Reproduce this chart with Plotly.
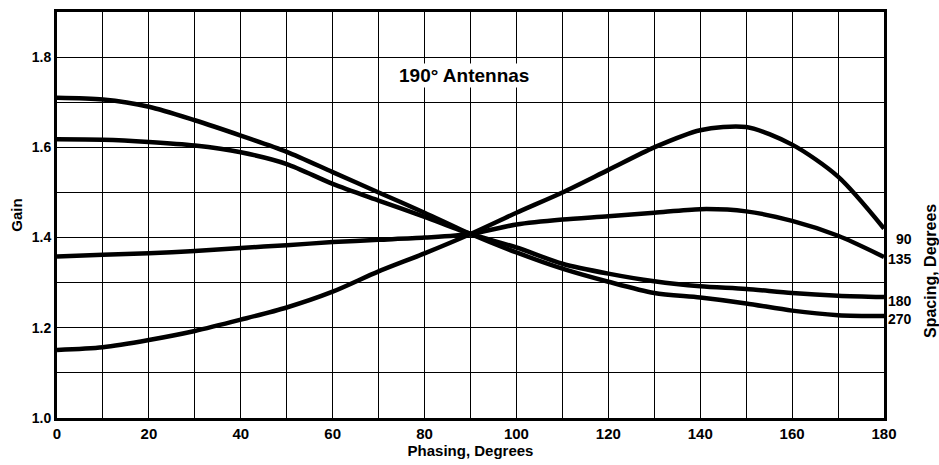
import plotly.graph_objects as go

# Phasing (degrees)
phasing = [0, 10, 20, 30, 40, 50, 60, 70, 80, 90, 100, 110, 120, 130, 140, 150, 160, 170, 180]

# Gain curves for each element spacing (degrees)
gain_90 = [1.151, 1.157, 1.173, 1.193, 1.218, 1.245, 1.280, 1.325, 1.365, 1.408,
           1.455, 1.500, 1.550, 1.600, 1.638, 1.645, 1.606, 1.535, 1.420]
gain_135 = [1.358, 1.362, 1.365, 1.370, 1.377, 1.383, 1.390, 1.395, 1.400, 1.408,
            1.429, 1.440, 1.447, 1.455, 1.463, 1.458, 1.437, 1.404, 1.357]
gain_180 = [1.618, 1.617, 1.612, 1.604, 1.589, 1.563, 1.519, 1.482, 1.446, 1.408,
            1.378, 1.342, 1.320, 1.303, 1.292, 1.286, 1.277, 1.271, 1.268]
gain_270 = [1.710, 1.706, 1.690, 1.660, 1.626, 1.590, 1.545, 1.500, 1.455, 1.408,
            1.367, 1.331, 1.302, 1.277, 1.267, 1.254, 1.238, 1.228, 1.226]

series_names = ["90", "135", "180", "270"]
series_values = [gain_90, gain_135, gain_180, gain_270]

x_tick_vals = list(range(0, 181, 10))
x_tick_text = ["0", "", "20", "", "40", "", "60", "", "80", "", "100", "", "120", "", "140", "", "160", "", "180"]
y_tick_vals = [1.0, 1.1, 1.2, 1.3, 1.4, 1.5, 1.6, 1.7, 1.8, 1.9]
y_tick_text = ["1.0", "", "1.2", "", "1.4", "", "1.6", "", "1.8", ""]

label_y = {"90": 1.396, "135": 1.352, "180": 1.260, "270": 1.220}

FONT = "Liberation Sans, Arial, sans-serif"

fig = go.Figure()
for name, vals in zip(series_names, series_values):
    fig.add_trace(go.Scatter(
        x=phasing, y=vals, mode="lines", name=name,
        line=dict(color="black", width=4.5, shape="spline", smoothing=0.8),
        showlegend=False, hoverinfo="x+y+name",
    ))

for name in series_names:
    fig.add_annotation(x=1, xref="paper", y=label_y[name], yref="y",
                       text="<b>" + name + "</b>", showarrow=False, xanchor="right", xshift=30,
                       font=dict(family=FONT, size=14, color="black"))

fig.add_annotation(x=1, xref="paper", y=0.362, yref="paper", text="<b>Spacing, Degrees</b>",
                   textangle=-90, showarrow=False, xanchor="center", yanchor="middle",
                   xshift=46,
                   font=dict(family=FONT, size=16, color="black"))

fig.add_annotation(x=0.492, xref="paper", y=1.759, yref="y", text="<b>190° Antennas</b>",
                   showarrow=False, xanchor="center", yanchor="middle",
                   bgcolor="white", borderpad=1,
                   font=dict(family=FONT, size=19, color="black"))

fig.update_layout(
    width=939, height=465,
    margin=dict(l=57, r=55, t=9, b=47),
    paper_bgcolor="white", plot_bgcolor="white",
    font=dict(family=FONT, size=14, color="black"),
)
fig.update_xaxes(
    range=[0, 180], tickvals=x_tick_vals, ticktext=["<b>" + t + "</b>" if t else "" for t in x_tick_text],
    showgrid=True, gridcolor="black", gridwidth=1.3,
    showline=True, linecolor="black", linewidth=3, mirror=True,
    ticks="", zeroline=False,
    tickfont=dict(family=FONT, size=15, color="black"),
    title=dict(text="<b>Phasing, Degrees</b>", standoff=2, font=dict(family=FONT, size=15)),
)
fig.update_yaxes(
    range=[1.0, 1.9], tickvals=y_tick_vals, ticktext=["<b>" + t + "</b>" if t else "" for t in y_tick_text],
    showgrid=True, gridcolor="black", gridwidth=1.3,
    showline=True, linecolor="black", linewidth=3, mirror=True,
    ticks="", zeroline=False,
    tickfont=dict(family=FONT, size=14, color="black"),
    title=dict(text="<b>Gain</b>", standoff=6, font=dict(family=FONT, size=15)),
)

fig.write_html("out.html", config={"displayModeBar": False},
               post_script="document.body.style.margin='0';document.body.style.overflow='hidden';")
